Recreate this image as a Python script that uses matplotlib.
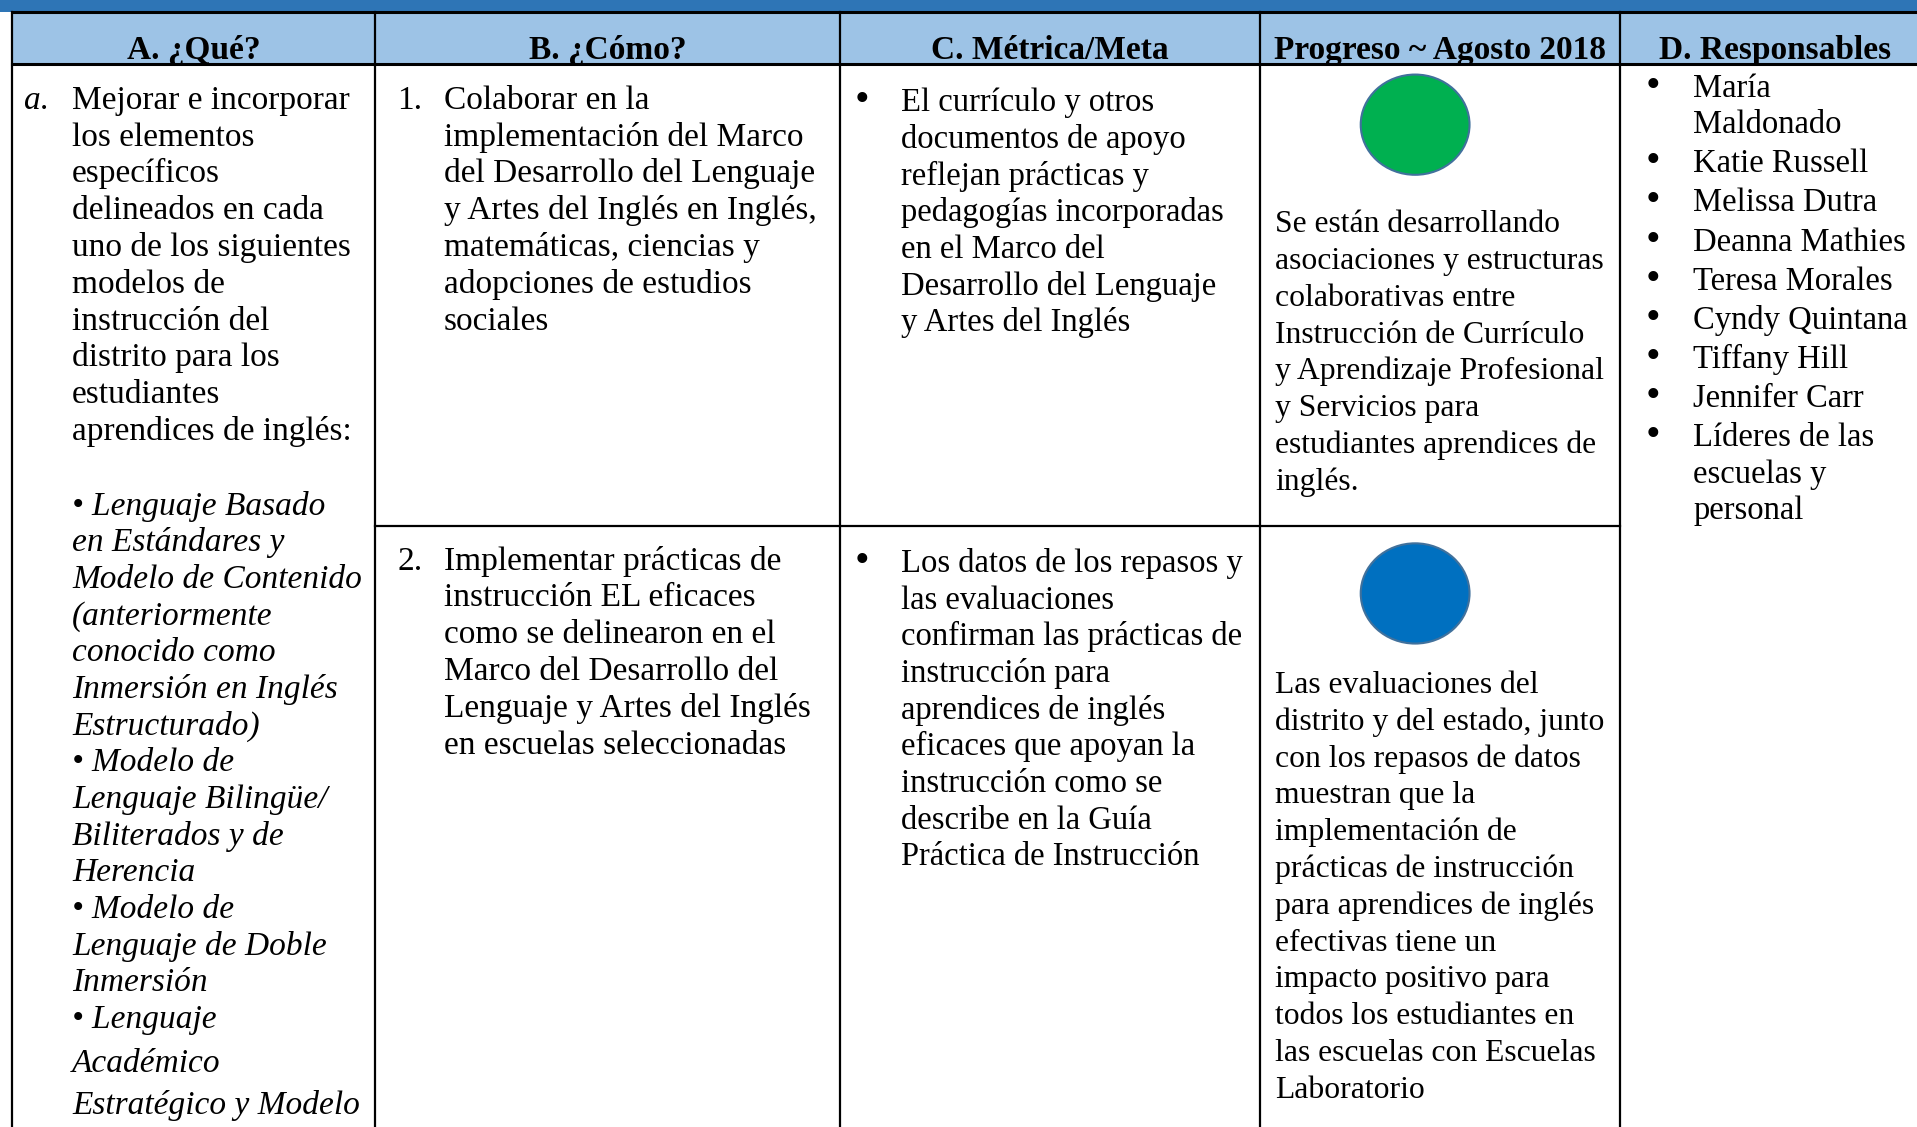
import matplotlib
matplotlib.use("Agg")
import matplotlib.pyplot as plt
from matplotlib.patches import Rectangle, Ellipse


# Table content

headers = ["A. ¿Qué?", "B. ¿Cómo?", "C. Métrica/Meta", "Progreso ~ Agosto 2018", "D. Responsables"]

que_intro = [
    "Mejorar e incorporar",
    "los elementos",
    "específicos",
    "delineados en cada",
    "uno de los siguientes",
    "modelos de",
    "instrucción del",
    "distrito para los",
    "estudiantes",
    "aprendices de inglés:",
]

que_models = [
    "• Lenguaje Basado",
    "en Estándares y",
    "Modelo de Contenido",
    "(anteriormente",
    "conocido como",
    "Inmersión en Inglés",
    "Estructurado)",
    "• Modelo de",
    "Lenguaje Bilingüe/",
    "Biliterados y de",
    "Herencia",
    "• Modelo de",
    "Lenguaje de Doble",
    "Inmersión",
    "• Lenguaje",
]
que_models_tail = ["Académico", "Estratégico y Modelo"]

como_1 = [
    "Colaborar en la",
    "implementación del Marco",
    "del Desarrollo del Lenguaje",
    "y Artes del Inglés en Inglés,",
    "matemáticas, ciencias y",
    "adopciones de estudios",
    "sociales",
]
como_2 = [
    "Implementar prácticas de",
    "instrucción EL eficaces",
    "como se delinearon en el",
    "Marco del Desarrollo del",
    "Lenguaje y Artes del Inglés",
    "en escuelas seleccionadas",
]

meta_1 = [
    "El currículo y otros",
    "documentos de apoyo",
    "reflejan prácticas y",
    "pedagogías incorporadas",
    "en el Marco del",
    "Desarrollo del Lenguaje",
    "y Artes del Inglés",
]
meta_2 = [
    "Los datos de los repasos y",
    "las evaluaciones",
    "confirman las prácticas de",
    "instrucción para",
    "aprendices de inglés",
    "eficaces que apoyan la",
    "instrucción como se",
    "describe en la Guía",
    "Práctica de Instrucción",
]

progreso_1 = [
    "Se están desarrollando",
    "asociaciones y estructuras",
    "colaborativas entre",
    "Instrucción de Currículo",
    "y Aprendizaje Profesional",
    "y Servicios para",
    "estudiantes aprendices de",
    "inglés.",
]
progreso_2 = [
    "Las evaluaciones del",
    "distrito y del estado, junto",
    "con los repasos de datos",
    "muestran que la",
    "implementación de",
    "prácticas de instrucción",
    "para aprendices de inglés",
    "efectivas tiene un",
    "impacto positivo para",
    "todos los estudiantes en",
    "las escuelas con Escuelas",
    "Laboratorio",
]
progreso_colors = ["#00B050", "#0070C0"]

responsables = [
    ["María", "Maldonado"],
    ["Katie Russell"],
    ["Melissa Dutra"],
    ["Deanna Mathies"],
    ["Teresa Morales"],
    ["Cyndy Quintana"],
    ["Tiffany Hill"],
    ["Jennifer Carr"],
    ["Líderes de las", "escuelas y", "personal"],
]


# Layout (in reference pixel units, 1568 x 922)
W, H = 1568, 922
cols = [10, 307, 687, 1031, 1325, 1600]
band_bot = 10
head_bot = 52
row_split = 430
step = 30.1
base = 9  # baseline offset from line middle
FONT = "Liberation Serif"
FS = 24
LW = 1.6

fig = plt.figure(figsize=(19.17, 11.27), dpi=100)
ax = fig.add_axes([0, 0, 1, 1])
ax.set_xlim(0, W)
ax.set_ylim(H, 0)
ax.axis("off")

# header band and header row
ax.add_patch(Rectangle((0, 0), W, band_bot, color="#2E75B6", lw=0))
ax.add_patch(Rectangle((cols[0], band_bot), W - cols[0], head_bot - band_bot, color="#9DC3E6", lw=0))

# grid lines
ax.plot([cols[0], W], [band_bot, band_bot], color="black", lw=LW + 0.6)
ax.plot([cols[0], W], [head_bot, head_bot], color="black", lw=LW + 0.6)
ax.plot([cols[1], cols[4]], [row_split, row_split], color="black", lw=LW)
for x in cols[:5]:
    ax.plot([x, x], [band_bot, H], color="black", lw=LW)

# headers
for i, h in enumerate(headers):
    ax.text((cols[i] + cols[i + 1]) / 2 if i < 4 else 1452, 48, h, ha="center", va="baseline",
            fontsize=FS, fontweight="bold", family=FONT)


def draw_lines(x, y0, lines, dy=step, fs=FS, **kw):
    for i, s in enumerate(lines):
        ax.text(x, y0 + i * dy + base, s, ha="left", va="baseline",
                fontsize=fs, family=FONT, **kw)


def bullet(x, y):
    ax.text(x, y + base, "•", ha="center", va="baseline", fontsize=FS + 6, family=FONT)


# column A
ax.text(20, 80 + base, "a.", ha="left", va="baseline", fontsize=FS, family=FONT, style="italic")
draw_lines(59, 80, que_intro)
draw_lines(59, 412, que_models, dy=30, style="italic")
draw_lines(59, 868, que_models_tail, dy=34, style="italic")

# column B
ax.text(325, 80 + base, "1.", ha="left", va="baseline", fontsize=FS, family=FONT)
draw_lines(363, 80, como_1)
ax.text(325, 457 + base, "2.", ha="left", va="baseline", fontsize=FS, family=FONT)
draw_lines(363, 457, como_2)

# column C
for y0, lines in [(82, meta_1), (459, meta_2)]:
    bullet(705, y0)
    draw_lines(737, y0, lines, dy=30, fs=23.5)

# progreso column
for (cy, ty, lines), c in zip([(102, 181, progreso_1), (485.5, 558, progreso_2)], progreso_colors):
    ax.add_patch(Ellipse((cols[3] + 126.5, cy), 89, 82, facecolor=c,
                         edgecolor="#41719C", lw=1.5))
    draw_lines(1043, ty, lines, fs=22.8)

# column D
y = 70
for item in responsables:
    bullet(1352, y)
    draw_lines(1385, y, item, dy=30, fs=23.5)
    y += 30 * len(item) + 2

fig.savefig("out.png", dpi=100)
